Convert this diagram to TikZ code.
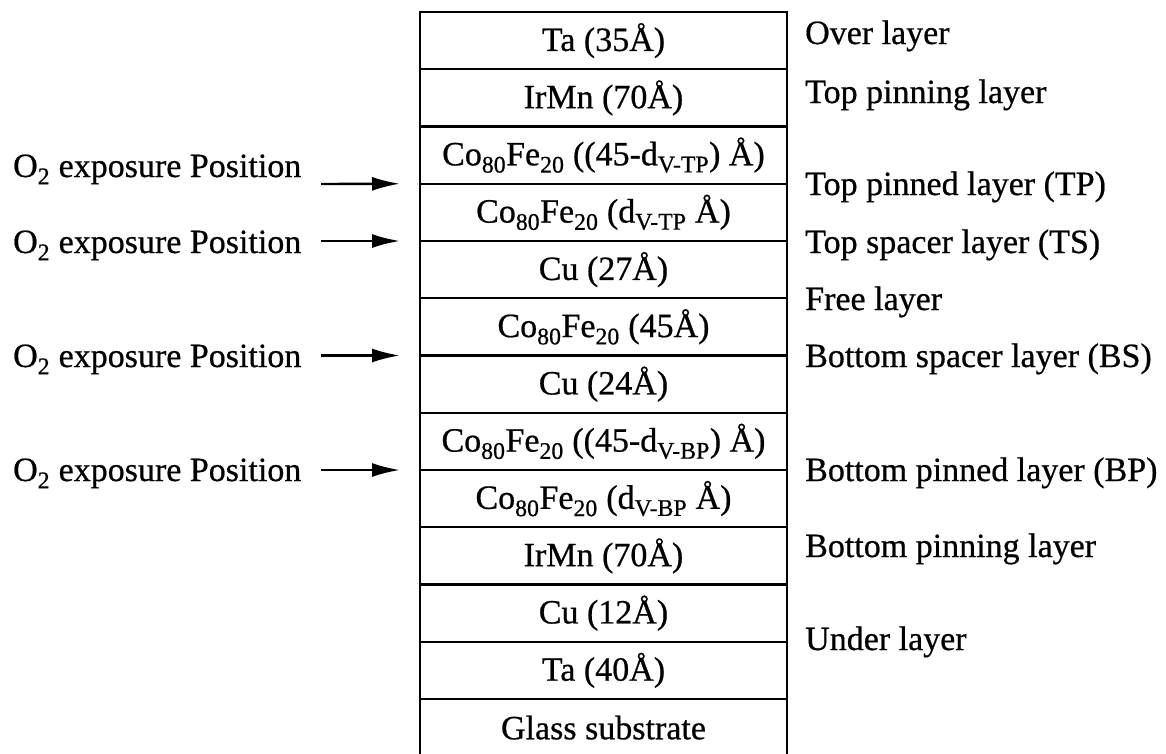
\documentclass[tikz,border=0pt]{standalone}
\usepackage{fontspec}
\setmainfont{Liberation Serif}[UprightFeatures={FakeBold=0.6}]
\usetikzlibrary{arrows.meta}
\newcommand{\sbs}[1]{\textsubscript{#1}}
\begin{document}
\begin{tikzpicture}[x=1pt,y=-1pt,
  txt/.style={font=\fontsize{34}{40}\selectfont},
  layer/.style={txt, draw, line width=2.2pt, minimum width=367pt, minimum height=57.25pt,
    inner sep=0pt, outer sep=0pt, anchor=north},
  lbl/.style={txt, anchor=base west, inner sep=0pt},
  arr/.style={line width=2.4pt, -{Latex[length=28pt,width=14pt]}}]
\useasboundingbox (0,0) rectangle (1166,753);
\fill[white] (0,0) rectangle (1166,753);
\begin{scope}
\clip (0,0) rectangle (1166,753);
\node[layer] (L1) at (603.5,12) {Ta (35Å)};
\node[layer] (L2) at (L1.south) {IrMn (70Å)};
\node[layer] (L3) at (L2.south) {Co\sbs{80}Fe\sbs{20} ((45-d\sbs{V-TP}) Å)};
\node[layer] (L4) at (L3.south) {Co\sbs{80}Fe\sbs{20} (d\sbs{V-TP} Å)};
\node[layer] (L5) at (L4.south) {Cu (27Å)};
\node[layer] (L6) at (L5.south) {Co\sbs{80}Fe\sbs{20} (45Å)};
\node[layer] (L7) at (L6.south) {Cu (24Å)};
\node[layer] (L8) at (L7.south) {Co\sbs{80}Fe\sbs{20} ((45-d\sbs{V-BP}) Å)};
\node[layer] (L9) at (L8.south) {Co\sbs{80}Fe\sbs{20} (d\sbs{V-BP} Å)};
\node[layer] (L10) at (L9.south) {IrMn (70Å)};
\node[layer] (L11) at (L10.south) {Cu (12Å)};
\node[layer] (L12) at (L11.south) {Ta (40Å)};
\node[layer] (L13) at (L12.south) {Glass substrate};
\end{scope}
% left labels and arrows
\node[lbl] (o1) at (13,177) {O\sbs{2} exposure Position};
\node[lbl] (o2) at (13,253) {O\sbs{2} exposure Position};
\node[lbl] (o3) at (13,367) {O\sbs{2} exposure Position};
\node[lbl] (o4) at (13,481) {O\sbs{2} exposure Position};
\coordinate (s1) at (321,184);
\coordinate (s2) at (321,241);
\coordinate (s3) at (321,355.5);
\coordinate (s4) at (321,470);
\draw[arr] (s1) -- ([xshift=-20pt]L3.south west);
\draw[arr] (s2) -- ([xshift=-20pt]L4.south west);
\draw[arr] (s3) -- ([xshift=-20pt]L6.south west);
\draw[arr] (s4) -- ([xshift=-20pt]L8.south west);
% right labels
\node[lbl] (r1) at (805,44) {Over layer};
\node[lbl] (r2) at (805,103) {Top pinning layer};
\node[lbl] (r3) at (805,195) {Top pinned layer (TP)};
\node[lbl] (r4) at (805,253) {Top spacer layer (TS)};
\node[lbl] (r5) at (805,310) {Free layer};
\node[lbl] (r6) at (805,367) {Bottom spacer layer (BS)};
\node[lbl] (r7) at (805,481) {Bottom pinned layer (BP)};
\node[lbl] (r8) at (805,557) {Bottom pinning layer};
\node[lbl] (r9) at (805,650) {Under layer};
\end{tikzpicture}
\end{document}
